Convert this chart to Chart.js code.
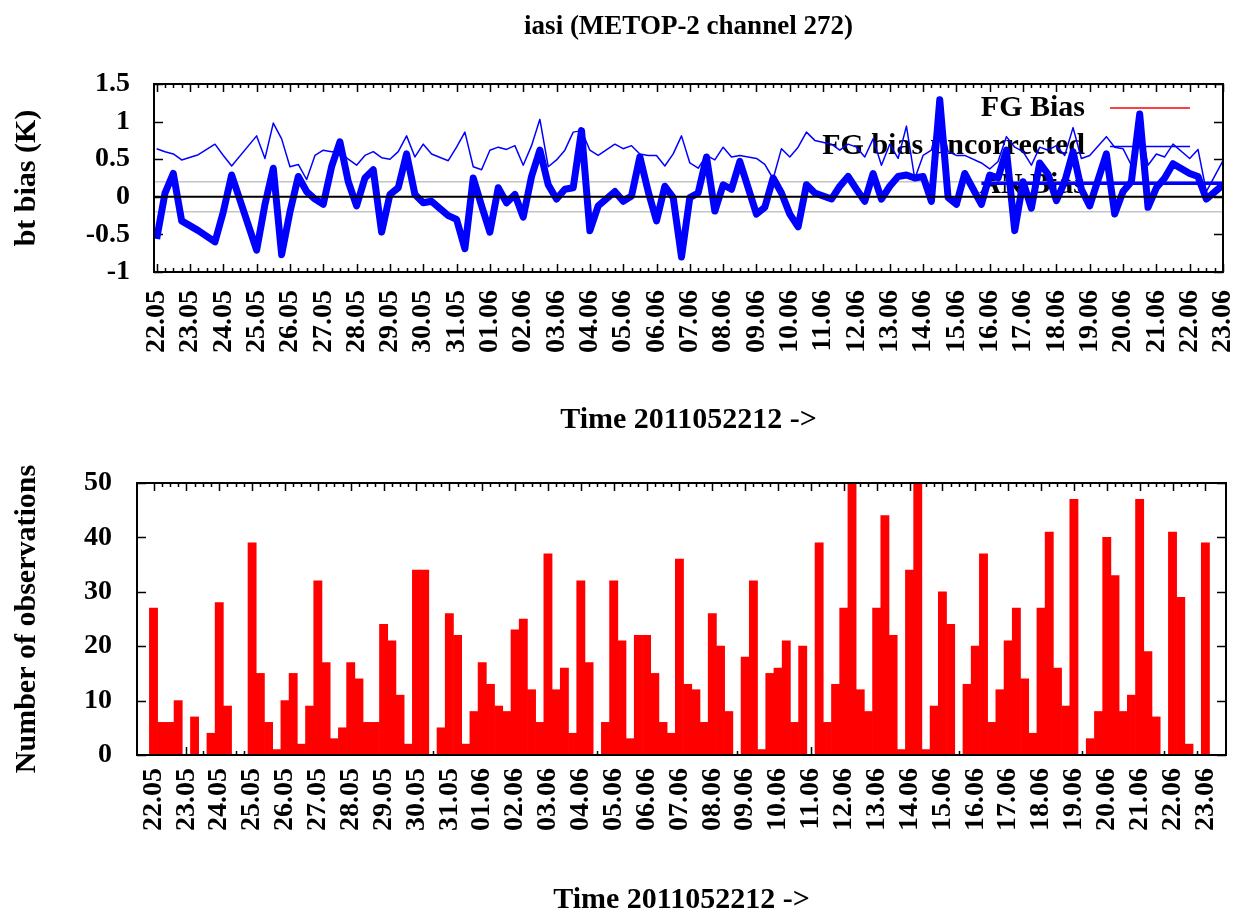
<!DOCTYPE html>
<html>
<head>
<meta charset="utf-8">
<title>iasi (METOP-2 channel 272)</title>
<script src="https://cdn.jsdelivr.net/npm/chart.js@4.4.1/dist/chart.umd.min.js"></script>
<style>
  html, body { margin: 0; padding: 0; background: #fff; }
  #wrap { position: relative; width: 1248px; height: 916px; }
  canvas { position: absolute; left: 0; }
  #biasChart { top: 0; }
  #obsChart { top: 450px; }
</style>
</head>
<body>
<div id="wrap">
  <canvas id="biasChart" width="1248" height="450"></canvas>
  <canvas id="obsChart" width="1248" height="466"></canvas>
</div>
<script>
'use strict';

// 6-hourly cycles starting 2011052212, one label per day
const dateLabels = ['22.05', '23.05', '24.05', '25.05', '26.05', '27.05', '28.05', '29.05', '30.05',
    '31.05', '01.06', '02.06', '03.06', '04.06', '05.06', '06.06', '07.06', '08.06', '09.06', '10.06',
    '11.06', '12.06', '13.06', '14.06', '15.06', '16.06', '17.06', '18.06', '19.06', '20.06', '21.06',
    '22.06', '23.06'];

// FG departure bias (K), null where a cycle had no data
const fgBias = [
    -0.56, 0.05, 0.31, -0.32, null, -0.45, null, -0.6, -0.2, 0.29,
    null, null, -0.71, -0.1, 0.38, -0.77, -0.2, 0.27, 0.07, -0.03,
    -0.1, 0.4, 0.73, 0.2, -0.12, 0.25, 0.36, -0.47, 0.03, 0.12,
    0.57, 0.03, -0.08, -0.06, null, -0.25, -0.3, -0.69, 0.25, -0.12,
    -0.47, 0.12, -0.08, 0.03, -0.27, 0.27, 0.62, 0.16, -0.03, 0.1,
    0.12, 0.88, -0.45, -0.12, null, 0.07, -0.06, 0.01, 0.53, 0.07,
    -0.32, 0.14, -0.01, -0.8, -0.01, 0.05, 0.53, -0.19, 0.16, 0.1,
    0.47, null, -0.23, -0.14, 0.25, 0.05, -0.23, -0.4, 0.16, 0.05,
    null, -0.03, 0.14, 0.27, 0.1, -0.06, 0.31, -0.03, 0.14, 0.27,
    0.29, 0.25, 0.27, -0.06, 1.29, -0.01, -0.1, 0.31, null, -0.1,
    0.29, 0.25, 0.62, -0.45, 0.2, -0.15, 0.45, 0.3, -0.05, 0.2,
    0.6, 0.1, -0.12, null, 0.57, -0.23, 0.07, 0.2, 1.1, -0.14,
    0.12, 0.25, 0.44, null, 0.31, 0.27, -0.03, null, 0.16
];

// same, before bias correction
const fgBiasUncorrected = [
    0.64, 0.6, 0.57, 0.49, null, 0.56, null, 0.7, 0.55, 0.41,
    null, null, 0.81, 0.51, 0.98, 0.77, 0.4, 0.43, 0.23, 0.55,
    0.62, 0.6, 0.6, 0.5, 0.42, 0.55, 0.6, 0.52, 0.5, 0.6,
    0.81, 0.53, 0.7, 0.57, null, 0.48, 0.66, 0.86, 0.4, 0.36,
    0.62, 0.66, 0.63, 0.68, 0.42, 0.68, 1.03, 0.4, 0.49, 0.62,
    0.86, 0.88, 0.62, 0.55, null, 0.7, 0.64, 0.68, 0.57, 0.55,
    0.55, 0.41, 0.57, 0.81, 0.45, 0.38, 0.55, 0.49, 0.66, 0.53,
    0.55, null, 0.51, 0.43, 0.24, 0.64, 0.53, 0.66, 0.86, 0.75,
    null, 0.7, 0.62, 0.7, 0.66, 0.53, 0.77, 0.42, 0.7, 0.51,
    0.94, 0.24, 0.55, 0.62, 1.1, 0.6, 0.55, 0.55, null, 0.45,
    0.37, 0.47, 0.8, 0.66, 0.6, 0.42, 0.66, 0.62, 0.68, 0.55,
    0.92, 0.51, 0.55, null, 0.8, 0.66, 0.64, 0.42, 1.0, 0.42,
    0.57, 0.53, 0.7, null, 0.51, 0.63, 0.07, null, 0.48
];

// number of observations per cycle
const obsCount = [
    27, 6, 6, 10, 0, 7, 0, 4, 28, 9,
    0, 0, 39, 15, 6, 1, 10, 15, 2, 9,
    32, 17, 3, 5, 17, 14, 6, 6, 24, 21,
    11, 2, 34, 34, 0, 5, 26, 22, 2, 8,
    17, 13, 9, 8, 23, 25, 12, 6, 37, 12,
    16, 4, 32, 17, 0, 6, 32, 21, 3, 22,
    22, 15, 6, 4, 36, 13, 12, 6, 26, 20,
    8, 0, 18, 32, 1, 15, 16, 21, 6, 20,
    0, 39, 6, 13, 27, 50, 12, 8, 27, 44,
    22, 1, 34, 50, 1, 9, 30, 24, 0, 13,
    20, 37, 6, 12, 21, 27, 14, 4, 27, 41,
    16, 9, 47, 0, 3, 8, 40, 33, 8, 11,
    47, 19, 7, 0, 41, 29, 2, 0, 39
];

// reference levels (K)
const zeroLevel = 0;
const spreadLevels = [0.2, -0.2];
// flat level drawn over the last cycles: [first cycle, last cycle, value]
const lateLevel = [99, 128, 0.18];

const legendRows = [
    { text: 'FG Bias', color: '#ff0000' },
    { text: 'FG bias uncorrected', color: '#0000ff' },
    { text: 'AN Bias', color: null }
];

const SERIF = '"Liberation Serif", "Times New Roman", serif';
const TOP_XMIN = -0.32, TOP_XMAX = 128;

const toPoints = arr => arr.map((v, i) => ({ x: i, y: v }));
const flat = (v, a, b) => [{ x: a, y: v }, { x: b, y: v }];
const dayTicks = () => dateLabels.map((d, i) => ({ value: i * 4 }));

// gnuplot style frame: inward tics on all four sides
const gnuplotFrame = {
    id: 'gnuplotFrame',
    beforeDatasetsDraw(chart) {
        const { ctx, chartArea: a, scales: { x, y } } = chart;
        ctx.save();
        ctx.strokeStyle = '#000';
        ctx.lineWidth = 1.5;
        ctx.beginPath();
        for (let v = Math.ceil(x.min); v <= x.max; v++) {
            const px = Math.round(x.getPixelForValue(v)) + 0.5;
            const len = v % 4 === 0 ? 8 : 4;
            ctx.moveTo(px, a.top);
            ctx.lineTo(px, a.top + len);
            ctx.moveTo(px, a.bottom);
            ctx.lineTo(px, a.bottom - len);
        }
        y.ticks.forEach(t => {
            const py = Math.round(y.getPixelForValue(t.value)) + 0.5;
            ctx.moveTo(a.left, py);
            ctx.lineTo(a.left + 9, py);
            ctx.moveTo(a.right, py);
            ctx.lineTo(a.right - 9, py);
        });
        ctx.stroke();
        ctx.restore();
    },
    afterDraw(chart) {
        const { ctx, chartArea: a } = chart;
        ctx.save();
        ctx.strokeStyle = '#000';
        ctx.lineWidth = 2;
        ctx.strokeRect(a.left, a.top, a.right - a.left, a.bottom - a.top);
        ctx.restore();
    }
};

// key in the upper right corner, drawn under the curves
const biasKey = {
    id: 'biasKey',
    beforeDatasetsDraw(chart) {
        const { ctx } = chart;
        ctx.save();
        ctx.font = 'bold 30px ' + SERIF;
        ctx.textAlign = 'right';
        ctx.textBaseline = 'middle';
        legendRows.forEach((row, i) => {
            const ty = 108 + i * 38.5;
            ctx.fillStyle = '#000';
            ctx.fillText(row.text, 1085, ty);
            if (row.color) {
                ctx.strokeStyle = row.color;
                ctx.lineWidth = 1.5;
                ctx.beginPath();
                ctx.moveTo(1110, ty);
                ctx.lineTo(1190, ty);
                ctx.stroke();
            }
        });
        ctx.restore();
    },
    afterDraw(chart) {
        const { ctx, chartArea: a } = chart;
        ctx.save();
        ctx.font = 'bold 27px ' + SERIF;
        ctx.fillStyle = '#000';
        ctx.textAlign = 'center';
        ctx.textBaseline = 'middle';
        ctx.fillText('iasi (METOP-2 channel 272)', (a.left + a.right) / 2, 27);
        ctx.restore();
    }
};

function timeAxis(min, max, labelPad, titlePad, height) {
    return {
        type: 'linear',
        min: min,
        max: max,
        afterBuildTicks: scale => { scale.ticks = dayTicks(); },
        afterFit: scale => {
            scale.height = height;
            // keep the plot edges where the layout padding puts them
            scale.paddingLeft = 0;
            scale.paddingRight = 0;
        },
        grid: { display: false, drawTicks: false },
        border: { display: false },
        ticks: {
            autoSkip: false,
            minRotation: 90,
            maxRotation: 90,
            padding: labelPad,
            color: '#000',
            font: { family: SERIF, size: 28, weight: 'bold' },
            callback: v => dateLabels[v / 4]
        },
        title: {
            display: true,
            text: 'Time 2011052212 ->',
            color: '#000',
            font: { family: SERIF, size: 30, weight: 'bold', lineHeight: 1 },
            padding: { top: 0, bottom: titlePad }
        }
    };
}

function valueAxis(min, max, step, width, labelPad, text) {
    return {
        min: min,
        max: max,
        afterFit: scale => {
            scale.width = width;
            scale.paddingTop = 0;
            scale.paddingBottom = 0;
        },
        grid: { display: false, drawTicks: false },
        border: { display: false },
        ticks: {
            stepSize: step,
            padding: labelPad,
            color: '#000',
            font: { family: SERIF, size: 28, weight: 'bold' },
            callback: v => String(v)
        },
        title: {
            display: true,
            text: text,
            color: '#000',
            font: { family: SERIF, size: 30, weight: 'bold', lineHeight: 1 },
            padding: { top: 12, bottom: 0 }
        }
    };
}

const lineStyle = (color, width) => ({
    borderColor: color,
    backgroundColor: color,
    borderWidth: width,
    borderJoinStyle: 'round',
    pointRadius: 0,
    tension: 0,
    spanGaps: true,
    fill: false
});

new Chart(document.getElementById('biasChart'), {
    type: 'line',
    data: {
        datasets: [
            Object.assign({ label: 'zero', data: flat(zeroLevel, TOP_XMIN, TOP_XMAX) }, lineStyle('#000000', 2)),
            Object.assign({ label: 'late level', data: flat(lateLevel[2], lateLevel[0], lateLevel[1]) }, lineStyle('#0000ff', 3.5)),
            Object.assign({ label: 'AN Bias', data: toPoints(fgBias) }, lineStyle('#0000ff', 7)),
            Object.assign({ label: 'FG bias uncorrected', data: toPoints(fgBiasUncorrected) }, lineStyle('#0000ff', 1.5)),
            Object.assign({ label: 'FG Bias', data: toPoints(fgBias) }, lineStyle('#ff0000', 1.5)),
            Object.assign({ label: '+sd', data: flat(spreadLevels[0], TOP_XMIN, TOP_XMAX) }, lineStyle('#c4c4c4', 1.5)),
            Object.assign({ label: '-sd', data: flat(spreadLevels[1], TOP_XMIN, TOP_XMAX) }, lineStyle('#c4c4c4', 1.5))
        ]
    },
    options: {
        responsive: false,
        animation: false,
        layout: { padding: { top: 84, right: 25, bottom: 0, left: 0 } },
        plugins: { legend: { display: false }, tooltip: { enabled: false } },
        scales: {
            x: timeAxis(TOP_XMIN, TOP_XMAX, 18, 15, 178),
            y: valueAxis(-1, 1.5, 0.5, 154, 24, 'bt bias (K)')
        }
    },
    plugins: [gnuplotFrame, biasKey]
});

new Chart(document.getElementById('obsChart'), {
    type: 'bar',
    data: {
        datasets: [{
            label: 'Number of observations',
            data: toPoints(obsCount),
            backgroundColor: '#ff0000',
            borderWidth: 0,
            barPercentage: 1,
            categoryPercentage: 1,
            clip: 0
        }]
    },
    options: {
        responsive: false,
        animation: false,
        layout: { padding: { top: 33, right: 22, bottom: 0, left: 0 } },
        plugins: { legend: { display: false }, tooltip: { enabled: false } },
        scales: {
            x: timeAxis(0, 128.5, 13, 1, 161),
            y: valueAxis(0, 50, 10, 137, 25, 'Number of observations')
        }
    },
    plugins: [gnuplotFrame]
});
</script>
</body>
</html>
